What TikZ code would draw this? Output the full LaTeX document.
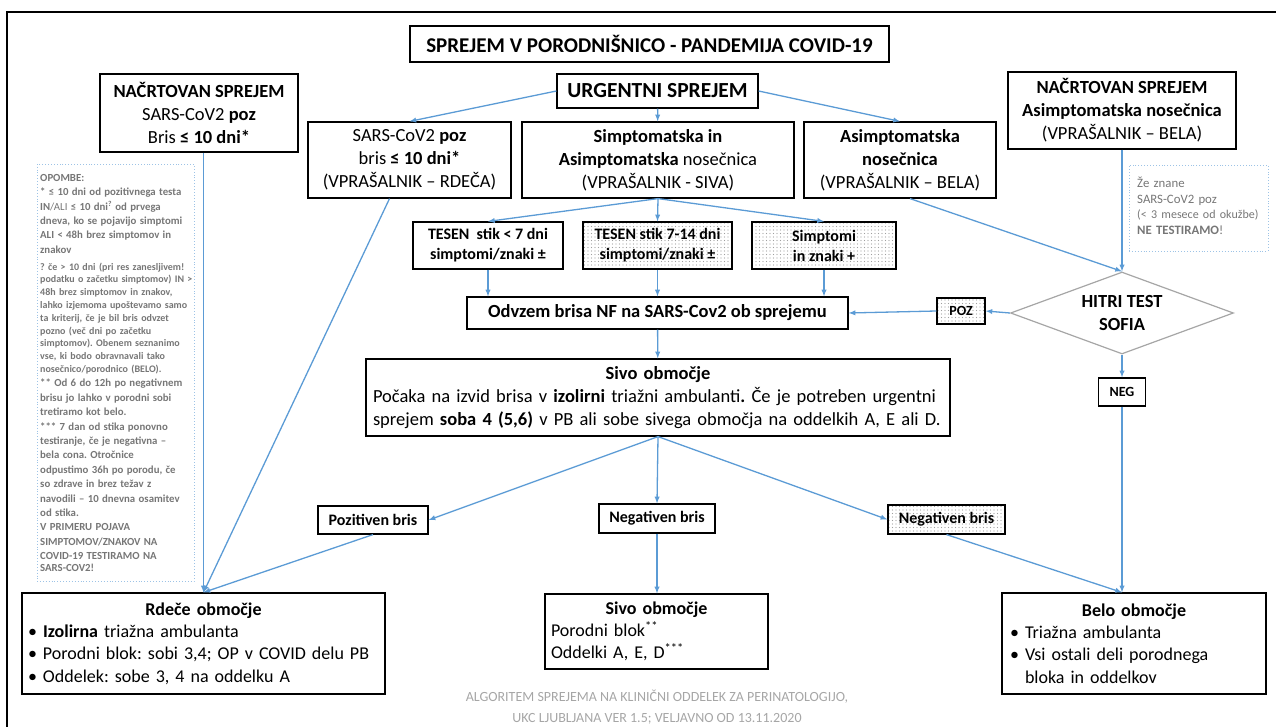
\documentclass[tikz,border=0pt]{standalone}
\usepackage{fontspec}
\setmainfont{Carlito}
\usetikzlibrary{shapes, arrows, positioning, patterns.meta}
\definecolor{arrowblue}{RGB}{91,155,213}
\definecolor{noteblue}{RGB}{157,195,230}
\definecolor{notegray}{RGB}{118,118,118}
\definecolor{footgray}{RGB}{166,166,166}
\frenchspacing
\newcommand{\fs}[2]{\fontsize{#1}{#2}\selectfont}
\newcommand{\bul}{\makebox[15pt][l]{\textbullet}}
\tikzstyle{rect} = [draw, rectangle, line width=1.2pt, fill=white, align=center, inner sep=0pt, font=\fs{18.5}{23}]
\tikzstyle{smallbox} = [rect, font=\fs{16}{20}\bfseries]
\tikzstyle{dotbox} = [pattern={Dots[distance=3.5pt, radius=0.55pt]}, pattern color=gray!75]
\tikzstyle{notebox} = [draw=noteblue, dotted, line width=0.9pt, rectangle]
\tikzstyle{line} = [draw, -latex, arrowblue, line width=1.3pt]

\begin{document}
\begin{tikzpicture}[x=1pt, y=-1pt]
	\useasboundingbox (0,0) rectangle (1276,727);
	\draw [line width=1.2pt] (7,727) -- (7,12) -- (1276,12);

	\node [rect, font=\fs{21}{25}\bfseries, minimum width=479pt, minimum height=36pt] (title) at (649.5,44) {SPREJEM V PORODNIŠNICO - PANDEMIJA COVID-19};
	\node [rect, font=\fs{21.5}{25}\bfseries, minimum width=201pt, minimum height=34pt] (urg) at (657.5,91) {URGENTNI SPREJEM};
	\node [rect, minimum width=198pt, minimum height=78pt] (nacL) at (199,113) {\textbf{NAČRTOVAN SPREJEM}\\ SARS-CoV2 \textbf{poz}\\ Bris \textbf{≤ 10 dni*}};
	\node [rect, minimum width=228pt, minimum height=77pt] (nacR) at (1122,110.5) {\textbf{NAČRTOVAN SPREJEM}\\ \textbf{Asimptomatska nosečnica}\\ (VPRAŠALNIK – BELA)};

	\node [rect, minimum width=203pt, minimum height=76pt] (srA) at (409.5,160) {SARS-CoV2 \textbf{poz}\\ bris \textbf{≤ 10 dni*}\\ (VPRAŠALNIK – RDEČA)};
	\node [rect, minimum width=272pt, minimum height=76pt] (simB) at (658,160) {\textbf{Simptomatska in}\\ \textbf{Asimptomatska} nosečnica\\ (VPRAŠALNIK - SIVA)};
	\node [rect, minimum width=192pt, minimum height=76pt] (asC) at (900,160) {\textbf{Asimptomatska}\\ \textbf{nosečnica}\\ (VPRAŠALNIK – BELA)};

	% opombe
	\node [notebox, minimum width=157pt, minimum height=417pt] (notesbox) at (115.5,372.5) {};
	\node [anchor=north west, text width=165pt, align=left, inner sep=0pt, text=notegray, font=\bfseries] (notes) at (40,174) {%
		\fs{10.8}{14.4}OPOMBE:\\
		{*} ≤ 10 dni od pozitivnega testa\\
		IN\textmd{/ALI} ≤ 10 dni\textsuperscript{?} od prvega\\
		dneva, ko se pojavijo simptomi\\
		ALI < 48h brez simptomov in\\
		znakov\par\vspace{4pt}
		\fs{10}{12.8}? če > 10 dni (pri res zanesljivem!\\
		podatku o začetku simptomov) IN >\\
		48h brez simptomov in znakov,\\
		lahko izjemoma upoštevamo samo\\
		ta kriterij, če je bil bris odvzet\\
		pozno (več dni po začetku\\
		simptomov). Obenem seznanimo\\
		vse, ki bodo obravnavali tako\\
		nosečnico/porodnico (BELO).\par
		\fs{10.8}{14.4}** Od 6 do 12h po negativnem\\
		brisu jo lahko v porodni sobi\\
		tretiramo kot belo.\\
		{***} 7 dan od stika ponovno\\
		testiranje, če je negativna –\\
		bela cona. Otročnice\\
		odpustimo 36h po porodu, če\\
		so zdrave in brez težav z\\
		navodili – 10 dnevna osamitev\\
		od stika.\\
		V PRIMERU POJAVA\\
		SIMPTOMOV/ZNAKOV NA\\
		COVID-19 TESTIRAMO NA\\
		SARS-COV2!};
	\node [notebox, minimum width=139pt, minimum height=86pt] (znanebox) at (1198.5,208) {};
	\node [anchor=north west, text width=135pt, align=left, inner sep=0pt, text=notegray, font=\fs{12.8}{15.5}] (znane) at (1137,177) {Že znane\\ SARS-CoV2 poz\\ {\fs{12}{15.5}(< 3 mesece od okužbe)}\\ \textbf{NE TESTIRAMO}!};

	\node [smallbox, minimum width=150pt, minimum height=47pt] (t1) at (488,245.5) {TESEN\ \ stik < 7 dni\\ simptomi/znaki ±};
	\node [smallbox, dotbox, minimum width=149pt, minimum height=47pt] (t2) at (657.5,245.5) {TESEN stik 7-14 dni\\ simptomi/znaki ±};
	\node [smallbox, dotbox, minimum width=144pt, minimum height=47pt] (t3) at (824,245.5) {Simptomi\\ in znaki +};
	\node [rect, font=\fs{18.5}{23}\bfseries, minimum width=381pt, minimum height=32pt] (odv) at (657.5,313) {Odvzem brisa NF na SARS-Cov2 ob sprejemu};
	\node [rect, dotbox, font=\fs{14}{17}\bfseries, minimum width=48pt, minimum height=26pt] (poz) at (961,311) {POZ};
	\node [diamond, draw=gray!70, line width=1.2pt, fill=white, align=center, inner sep=0pt, shape aspect=2.7, minimum width=223pt, minimum height=82pt, font=\fs{18.5}{23}\bfseries] (sofia) at (1122,313) {HITRI TEST\\ SOFIA};
	\node [rect, font=\fs{14}{17}\bfseries, minimum width=47pt, minimum height=28pt] (neg) at (1122,392) {NEG};

	\node [rect, align=left, text width=570pt, inner xsep=7pt, minimum height=77pt] (sivo) at (658,397.5) {\makebox[\linewidth]{\textbf{Sivo območje}}\\ Počaka na izvid brisa v \textbf{izolirni} triažni ambulanti\textbf{.} Če je potreben urgentni\\ sprejem \textbf{soba 4 (5,6)} v PB ali sobe sivega območja na oddelkih A, E ali D.};

	\node [smallbox, minimum width=110pt, minimum height=28pt] (pozb) at (373,520) {Pozitiven bris};
	\node [smallbox, minimum width=116pt, minimum height=29pt] (negb) at (657,518.5) {Negativen bris};
	\node [smallbox, dotbox, minimum width=117pt, minimum height=29pt] (negb2) at (946.5,519.5) {Negativen bris};

	\node [rect, align=left, text width=351pt, inner xsep=6pt, minimum height=101pt, font=\fs{18}{22.3}] (rdeca) at (203.5,643.5) {\makebox[\linewidth]{\textbf{Rdeče območje}}\\ \bul\textbf{Izolirna} triažna ambulanta\\ \bul Porodni blok: sobi 3,4; OP v COVID delu PB\\ \bul Oddelek: sobe 3, 4 na oddelku A};
	\node [rect, align=left, text width=211pt, inner xsep=6pt, minimum height=75pt, font=\fs{18}{22.3}] (sivob) at (656.5,631.5) {\makebox[\linewidth]{\textbf{Sivo območje}}\\ Porodni blok\textsuperscript{**}\\ Oddelki A, E, D\textsuperscript{***}};
	\node [rect, align=left, text width=248pt, inner xsep=8pt, minimum height=101pt, font=\fs{18}{22.3}] (belo) at (1134,643.5) {\makebox[\linewidth]{\textbf{Belo območje}}\\ \bul Triažna ambulanta\\ \bul Vsi ostali deli porodnega\\ \hspace*{15pt}bloka in oddelkov};

	\node [align=center, text=footgray, font=\fs{14}{21}] (foot) at (657,707) {ALGORITEM SPREJEMA NA KLINIČNI ODDELEK ZA PERINATOLOGIJO,\\ UKC LJUBLJANA VER 1.5; VELJAVNO OD 13.11.2020};

	\path [line] (urg.west) -- (srA.north);
	\path [line] (urg) -- (simB);
	\path [line] (urg.east) -- (asC.north);
	\path [line] (nacL.south -| rdeca.north) -- (rdeca.north);
	\path [line] ([xshift=-20pt]srA.south) -- (rdeca.north);
	\path [line] (simB.south) -- (t1.north);
	\path [line] (simB.south) -- (t2.north);
	\path [line] (simB.south) -- (t3.north);
	\path [line] ([xshift=10pt]asC.south) -- (sofia.north);
	\path [line] (nacR.south -| sofia.north) -- (sofia.north);
	\path [line] (t1.south) -- (t1.south |- odv.north);
	\path [line] (t2.south) -- (t2.south |- odv.north);
	\path [line] (t3.south) -- (t3.south |- odv.north);
	\path [line] (sofia.west) -- (poz.east);
	\path [line] (poz.west) -- (odv.east);
	\path [line] (sofia) -- (neg);
	\path [line] (neg) -- (neg |- belo.north);
	\path [line] (odv) -- (sivo);
	\path [line] (sivo.south) -- (pozb.east);
	\path [line] (sivo.south) -- (negb.north);
	\path [line] (sivo.south) -- (negb2.west);
	\path [line] (pozb.south) -- (rdeca.north);
	\path [line] (negb) -- (negb |- sivob.north);
	\path [line] (negb2.south) -- (neg |- belo.north);
\end{tikzpicture}
\end{document}
